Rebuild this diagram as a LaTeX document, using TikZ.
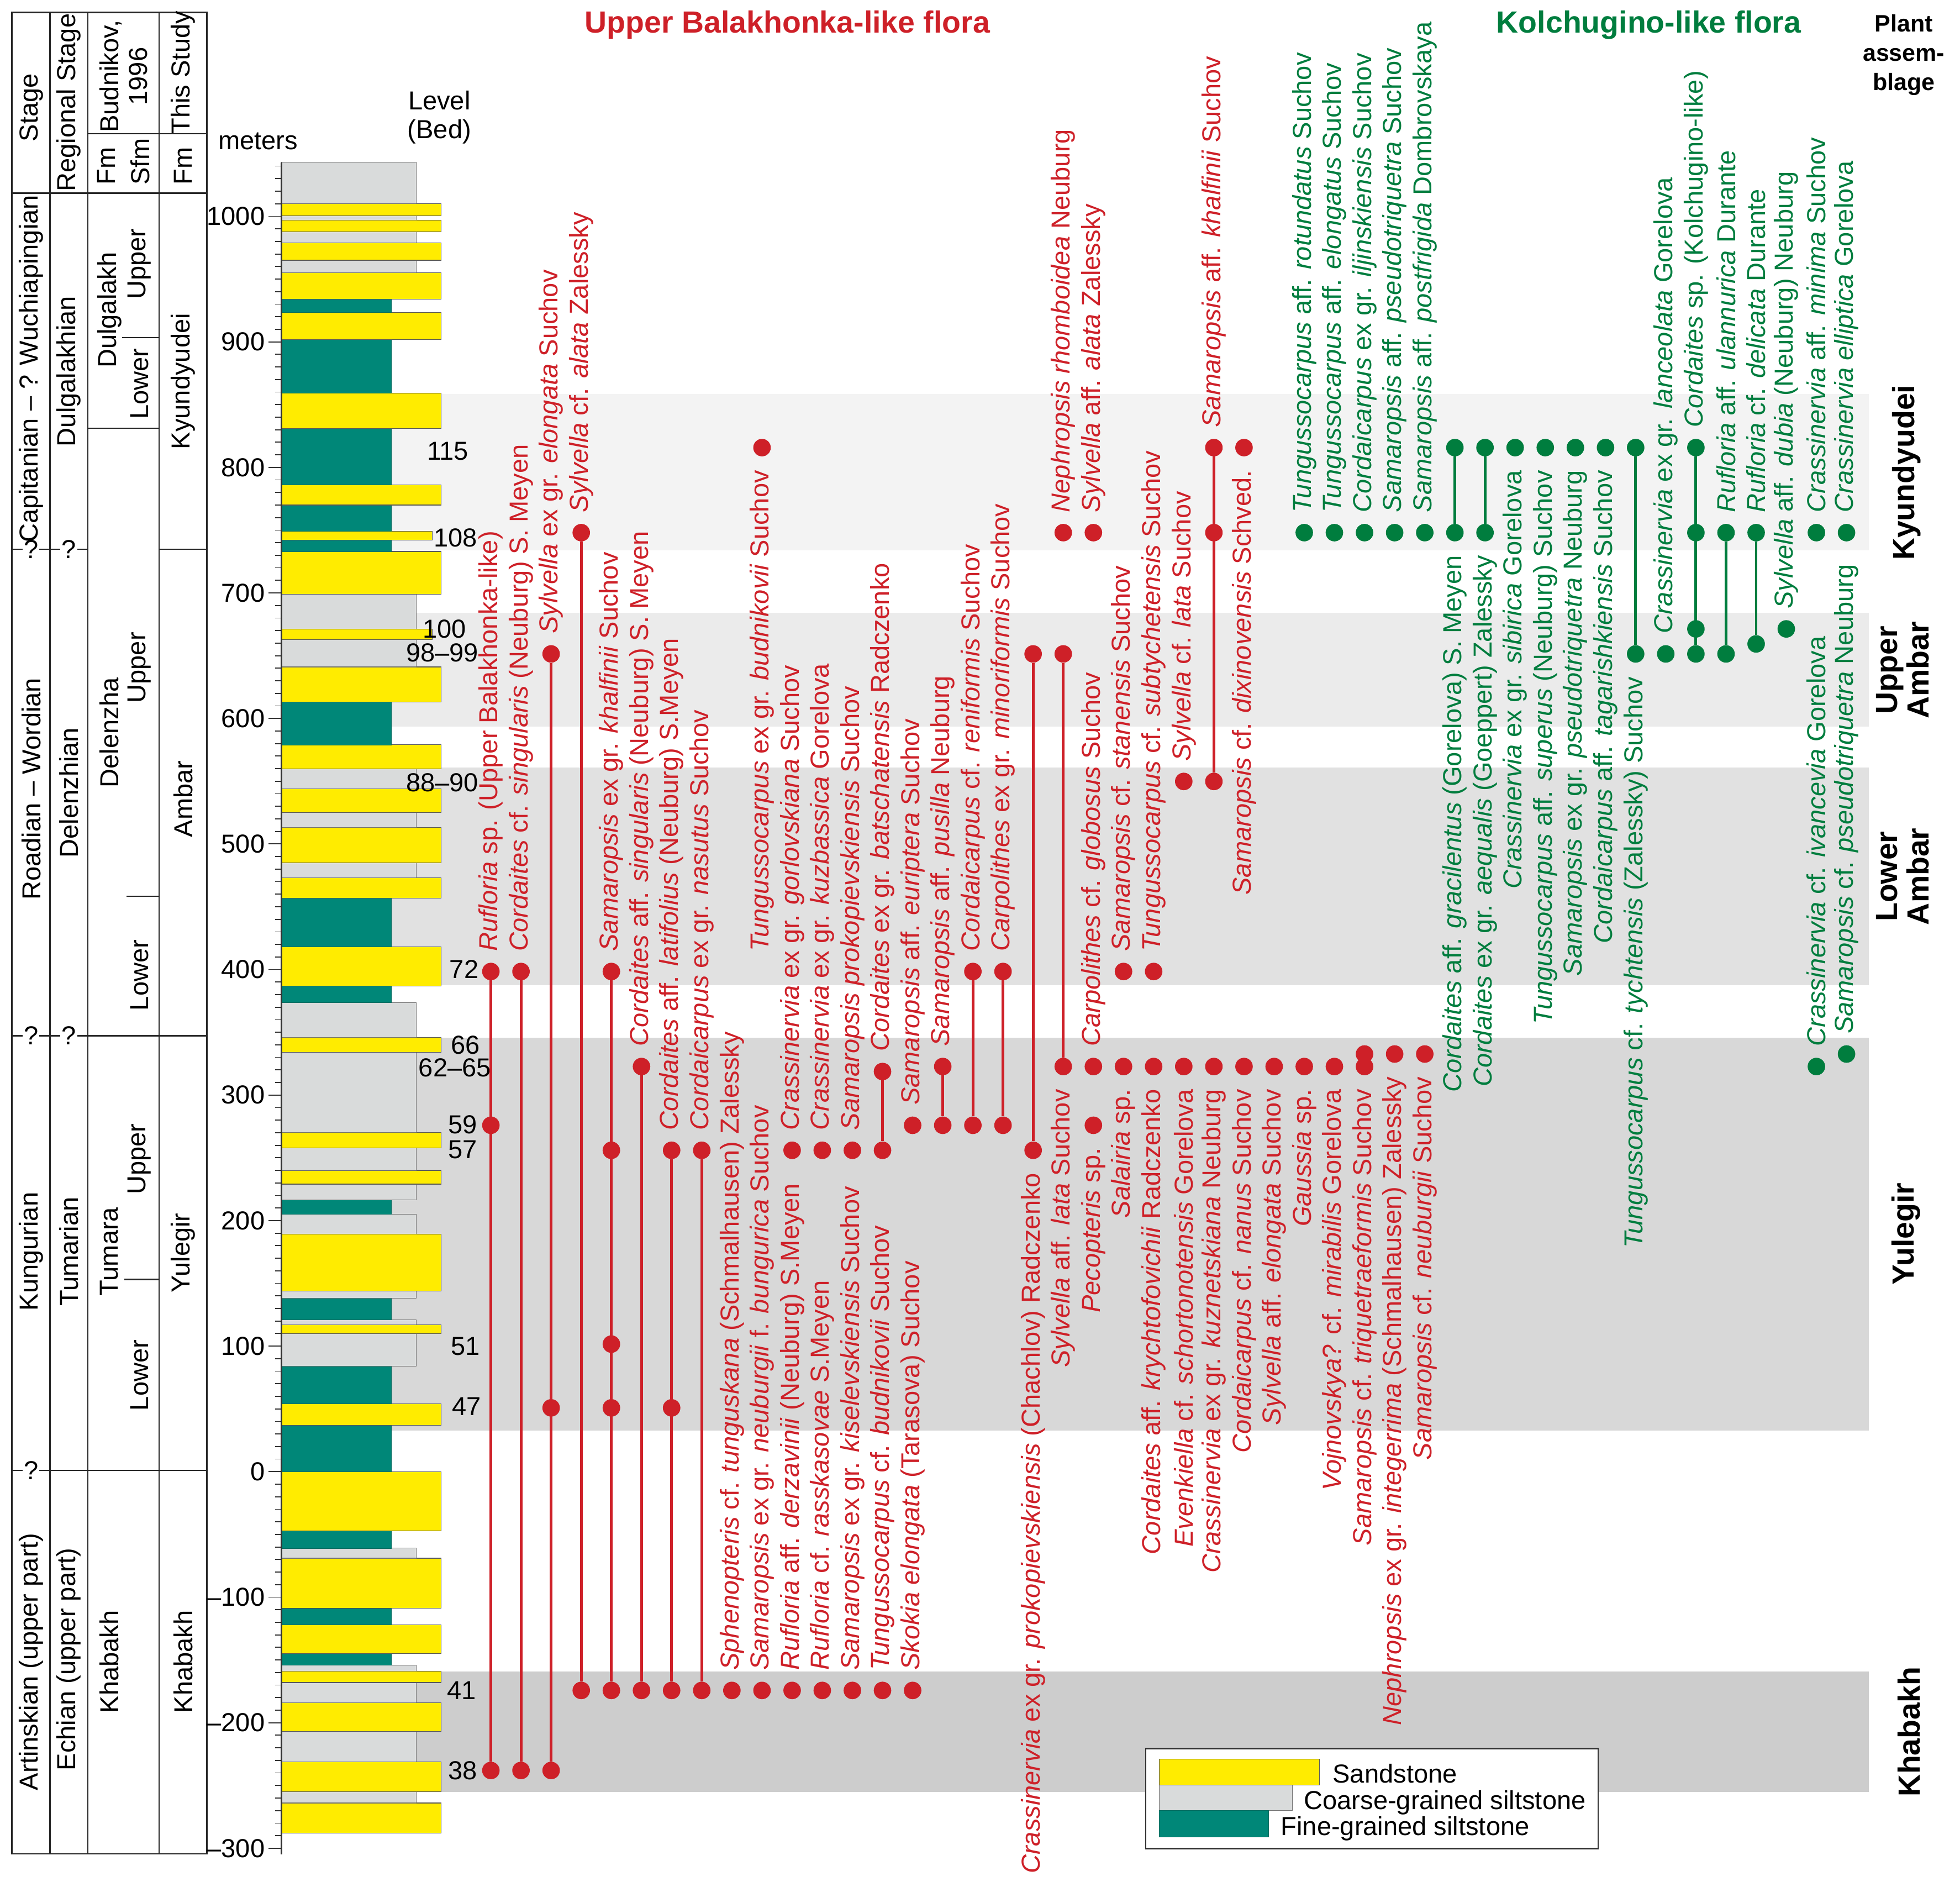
\documentclass[tikz,border=0pt]{standalone}
\usepackage{fontspec}
\setmainfont{Liberation Sans}

\definecolor{sandY}{RGB}{255,236,0}
\definecolor{coarseG}{RGB}{217,219,219}
\definecolor{fineT}{RGB}{0,135,120}
\definecolor{upperR}{RGB}{206,32,40}
\definecolor{kolchG}{RGB}{0,125,62}
\definecolor{bandKy}{RGB}{243,243,243}
\definecolor{bandUA}{RGB}{235,235,235}
\definecolor{bandLA}{RGB}{225,225,225}
\definecolor{bandYu}{RGB}{216,216,216}
\definecolor{bandKh}{RGB}{205,205,205}

\tikzset{
  sandbed/.style={fill=sandY, draw=black!65, line width=0.5pt},
  coarsebed/.style={fill=coarseG, draw=black!55, line width=0.5pt},
  finebed/.style={fill=fineT, draw=fineT!80!black, line width=0.3pt},
  rdot/.style={circle, fill=upperR, inner sep=0pt, minimum size=14pt},
  gdot/.style={circle, fill=kolchG, inner sep=0pt, minimum size=14pt},
  rrange/.style={upperR, line width=2.2pt},
  grange/.style={kolchG, line width=2.2pt},
  labup/.style={rotate=90, anchor=west, inner sep=0pt},
  labdn/.style={rotate=90, anchor=east, inner sep=0pt},
  vtext/.style={rotate=90, inner sep=0pt},
  tabline/.style={line width=1.1pt, black!85},
  axisline/.style={black!80, line width=0.8pt},
  qmark/.style={fill=white, inner sep=1pt},
  boldlab/.style={font=\bfseries\fontsize{24.5}{25}\selectfont},
}

\begin{document}
\begin{tikzpicture}[x=1pt, y=-1pt, font=\fontsize{20.8}{23}\selectfont]
\useasboundingbox (0,0) rectangle (1568,1509);
\fill[white] (0,0) rectangle (1568,1509);

% plant assemblage bands
\fill[bandKy] (225,315) rectangle (1495,440);
\fill[bandUA] (225,490) rectangle (1495,581);
\fill[bandLA] (225,614) rectangle (1495,788);
\fill[bandYu] (225,830) rectangle (1495,1144);
\fill[bandKh] (225,1337) rectangle (1495,1433);

% stratigraphic table
\draw[tabline] (9.6,9.9) rectangle (165.6,1482.6);
\draw[tabline] (40,9.9) -- (40,1482.6);
\draw[tabline] (70.3,9.9) -- (70.3,1482.6);
\draw[tabline] (127.3,9.9) -- (127.3,1482.6);
\draw[tabline] (9.6,154.4) -- (165.6,154.4);
\draw[tabline] (70.3,107) -- (165.6,107);
\draw[tabline] (70.3,342.5) -- (127.3,342.5);
\draw[tabline] (97.6,270) -- (127.3,270);
\draw[tabline] (9.6,439.3) -- (70.3,439.3);
\draw[tabline] (127.3,439.3) -- (165.6,439.3);
\draw[tabline] (101.4,716.8) -- (127.3,716.8);
\draw[tabline] (9.6,828.4) -- (165.6,828.4);
\draw[tabline] (99.4,1023.3) -- (127.3,1023.3);
\draw[tabline] (9.6,1176) -- (165.6,1176);
\node[qmark] (q1) at (24.8,439.3) {?};
\node[qmark] (q2) at (55,439.3) {?};
\node[qmark] (q3) at (24.8,828.4) {?};
\node[qmark] (q4) at (55,828.4) {?};
\node[qmark] (q5) at (24.8,1176) {?};

\node[vtext] (hStage) at (25,86) {Stage};
\node[vtext] (hReg) at (55,82) {Regional Stage};
\node[vtext, align=center] (hBud) at (98.8,61) {Budnikov,\\1996};
\node[vtext] (hThis) at (146.5,58) {This Study};
\node[vtext, anchor=west] (hFm1) at (85,148) {Fm};
\node[vtext, anchor=west] (hSfm) at (112,148) {Sfm};
\node[vtext, anchor=west] (hFm2) at (146.5,148) {Fm};

\node[vtext] (st1) at (25,295) {Capitanian – ? Wuchiapingian};
\node[vtext] (st2) at (25,631) {Roadian – Wordian};
\node[vtext] (st3) at (25,1001) {Kungurian};
\node[vtext] (st4) at (25,1329) {Artinskian (upper part)};
\node[vtext] (rs1) at (55,297) {Dulgalakhian};
\node[vtext] (rs2) at (55,634) {Delenzhian};
\node[vtext] (rs3) at (55,1001) {Tumarian};
\node[vtext] (rs4) at (55,1327) {Echian (upper part)};
\node[vtext] (fm1) at (87.5,248) {Dulgalakh};
\node[vtext] (fm2) at (87.5,586) {Delenzha};
\node[vtext] (fm3) at (87.5,1001) {Tumara};
\node[vtext] (fm4) at (87.5,1329) {Khabakh};
\node[vtext] (sf1) at (111.6,211) {Upper};
\node[vtext] (sf2) at (111.6,307) {Lower};
\node[vtext] (sf3) at (111.6,534) {Upper};
\node[vtext] (sf4) at (111.6,780) {Lower};
\node[vtext] (sf5) at (111.6,927) {Upper};
\node[vtext] (sf6) at (111.6,1100) {Lower};
\node[vtext] (ts1) at (146.5,305) {Kyundyudei};
\node[vtext] (ts2) at (146.5,639) {Ambar};
\node[vtext] (ts3) at (146.5,1002) {Yulegir};
\node[vtext] (ts4) at (146.5,1329) {Khabakh};

% lithological column, in meters
\begin{scope}[shift={(0,1177)}, y=1.004pt]
  \draw[sandbed] (225,-288) rectangle (353,-264);
  \draw[coarsebed] (225,-264) rectangle (333,-255);
  \draw[sandbed] (225,-255) rectangle (353,-231);
  \draw[coarsebed] (225,-231) rectangle (333,-207);
  \draw[sandbed] (225,-207) rectangle (353,-184);
  \draw[coarsebed] (225,-184) rectangle (333,-168);
  \draw[sandbed] (225,-168) rectangle (353,-159);
  \draw[coarsebed] (225,-159) rectangle (333,-154);
  \draw[finebed] (225,-154) rectangle (313,-145);
  \draw[sandbed] (225,-145) rectangle (353,-122);
  \draw[finebed] (225,-122) rectangle (313,-109);
  \draw[sandbed] (225,-109) rectangle (353,-69);
  \draw[coarsebed] (225,-69) rectangle (333,-61);
  \draw[finebed] (225,-61) rectangle (313,-47);
  \draw[sandbed] (225,-47) rectangle (353,0);
  \draw[finebed] (225,0) rectangle (313,37);
  \draw[sandbed] (225,37) rectangle (353,54);
  \draw[finebed] (225,54) rectangle (313,84);
  \draw[coarsebed] (225,84) rectangle (333,110);
  \draw[sandbed] (225,110) rectangle (353,117);
  \draw[coarsebed] (225,117) rectangle (333,121);
  \draw[finebed] (225,121) rectangle (313,138);
  \draw[coarsebed] (225,138) rectangle (333,144);
  \draw[sandbed] (225,144) rectangle (353,189);
  \draw[coarsebed] (225,189) rectangle (333,205);
  \draw[finebed] (225,205) rectangle (313,216.5);
  \draw[coarsebed] (225,216.5) rectangle (333,229);
  \draw[sandbed] (225,229) rectangle (353,240);
  \draw[coarsebed] (225,240) rectangle (333,258);
  \draw[sandbed] (225,258) rectangle (353,270);
  \draw[coarsebed] (225,270) rectangle (333,334);
  \draw[sandbed] (225,334) rectangle (353,346);
  \draw[coarsebed] (225,346) rectangle (333,373.5);
  \draw[finebed] (225,373.5) rectangle (313,387);
  \draw[sandbed] (225,387) rectangle (353,418);
  \draw[finebed] (225,418) rectangle (313,457);
  \draw[sandbed] (225,457) rectangle (353,473);
  \draw[coarsebed] (225,473) rectangle (333,485);
  \draw[sandbed] (225,485) rectangle (353,513);
  \draw[coarsebed] (225,513) rectangle (333,525);
  \draw[sandbed] (225,525) rectangle (353,544);
  \draw[coarsebed] (225,544) rectangle (333,560);
  \draw[sandbed] (225,560) rectangle (353,579);
  \draw[finebed] (225,579) rectangle (313,613);
  \draw[sandbed] (225,613) rectangle (353,641);
  \draw[coarsebed] (225,641) rectangle (333,663);
  \draw[sandbed] (225,663) rectangle (346,671);
  \draw[coarsebed] (225,671) rectangle (333,699);
  \draw[sandbed] (225,699) rectangle (353,733);
  \draw[finebed] (225,733) rectangle (313,742);
  \draw[sandbed] (225,742) rectangle (346,749);
  \draw[finebed] (225,749) rectangle (313,770);
  \draw[sandbed] (225,770) rectangle (353,786);
  \draw[finebed] (225,786) rectangle (313,831);
  \draw[sandbed] (225,831) rectangle (353,859);
  \draw[finebed] (225,859) rectangle (313,902);
  \draw[sandbed] (225,902) rectangle (353,923.5);
  \draw[finebed] (225,923.5) rectangle (313,934);
  \draw[sandbed] (225,934) rectangle (353,955);
  \draw[coarsebed] (225,955) rectangle (333,965);
  \draw[sandbed] (225,965) rectangle (353,979);
  \draw[coarsebed] (225,979) rectangle (333,987.5);
  \draw[sandbed] (225,987.5) rectangle (353,997);
  \draw[coarsebed] (225,997) rectangle (333,1000.5);
  \draw[sandbed] (225,1000.5) rectangle (353,1010);
  \draw[coarsebed] (225,1010) rectangle (333,1043);
  % depth axis
  \draw[axisline, line width=1.3pt] (225,1043) -- (225,-305);
  \foreach \m in {-300,-290,...,1040}
    \draw[axisline] (220,\m) -- (225,\m);
  \foreach \m/\t [count=\i] in {1000/1000,900/900,800/800,700/700,600/600,500/500,400/400,300/300,200/200,100/100,0/0,-100/–100,-200/–200,-300/–300} {
    \draw[axisline] (215,\m) -- (225,\m);
    \node[anchor=east, inner sep=0pt] (ax\i) at (212,\m) {\t};
  }
\end{scope}
\node (meters) at (206.5,113) {meters};
\node[align=center] (level) at (351.5,94) {Level\\(Bed)};

% bed numbers
\node[anchor=east, inner sep=0pt] (b115) at (375,361) {115};
\node[anchor=east, inner sep=0pt] (b108) at (382,430) {108};
\node[anchor=east, inner sep=0pt] (b100) at (373,503) {100};
\node[anchor=east, inner sep=0pt] (b98) at (383,522) {98–99};
\node[anchor=east, inner sep=0pt] (b88) at (383,626) {88–90};
\node[anchor=east, inner sep=0pt] (b72) at (383,775) {72};
\node[anchor=east, inner sep=0pt] (b66) at (384,836) {66};
\node[anchor=east, inner sep=0pt] (b62) at (393,854) {62–65};
\node[anchor=east, inner sep=0pt] (b59) at (382,899.5) {59};
\node[anchor=east, inner sep=0pt] (b57) at (382,919.6) {57};
\node[anchor=east, inner sep=0pt] (b51) at (384,1077) {51};
\node[anchor=east, inner sep=0pt] (b47) at (385,1125) {47};
\node[anchor=east, inner sep=0pt] (b41) at (381,1352) {41};
\node[anchor=east, inner sep=0pt] (b38) at (382,1416) {38};

% species ranges, one column per x unit
\begin{scope}[xshift=392.7pt, x=24.1pt]
  % Upper Balakhonka-like flora
  \node[rdot] (r0a) at (0,777) {}; \node[rdot] (r0b) at (0,900) {}; \node[rdot] (r0c) at (0,1416) {};
  \draw[rrange] (r0a) -- (r0c);
  \node[labup, upperR] (tr0) at (0,761) {\textit{Rufloria} sp. (Upper Balakhonka-like)};
  \node[rdot] (r1a) at (1,777) {}; \node[rdot] (r1b) at (1,1416) {};
  \draw[rrange] (r1a) -- (r1b);
  \node[labup, upperR] (tr1) at (1,761) {\textit{Cordaites} cf. \textit{singularis} (Neuburg) S. Meyen};
  \node[rdot] (r2a) at (2,523) {}; \node[rdot] (r2b) at (2,1126) {}; \node[rdot] (r2c) at (2,1416) {};
  \draw[rrange] (r2a) -- (r2c);
  \node[labup, upperR] (tr2) at (2,507) {\textit{Sylvella} ex gr. \textit{elongata} Suchov};
  \node[rdot] (r3a) at (3,426) {}; \node[rdot] (r3b) at (3,1352) {};
  \draw[rrange] (r3a) -- (r3b);
  \node[labup, upperR] (tr3) at (3,410) {\textit{Sylvella} cf. \textit{alata} Zalessky};
  \node[rdot] (r4a) at (4,777) {}; \node[rdot] (r4b) at (4,920) {}; \node[rdot] (r4c) at (4,1075) {};
  \node[rdot] (r4d) at (4,1126) {}; \node[rdot] (r4e) at (4,1352) {};
  \draw[rrange] (r4a) -- (r4e);
  \node[labup, upperR] (tr4) at (4,761) {\textit{Samaropsis} ex gr. \textit{khalfinii} Suchov};
  \node[rdot] (r5a) at (5,853) {}; \node[rdot] (r5b) at (5,1352) {};
  \draw[rrange] (r5a) -- (r5b);
  \node[labup, upperR] (tr5) at (5,837) {\textit{Cordaites} aff. \textit{singularis} (Neuburg) S. Meyen};
  \node[rdot] (r6a) at (6,920) {}; \node[rdot] (r6b) at (6,1126) {}; \node[rdot] (r6c) at (6,1352) {};
  \draw[rrange] (r6a) -- (r6c);
  \node[labup, upperR] (tr6) at (6,904) {\textit{Cordaites} aff. \textit{latifolius} (Neuburg) S.Meyen};
  \node[rdot] (r7a) at (7,920) {}; \node[rdot] (r7b) at (7,1352) {};
  \draw[rrange] (r7a) -- (r7b);
  \node[labup, upperR] (tr7) at (7,904) {\textit{Cordaicarpus} ex gr. \textit{nasutus} Suchov};
  \node[rdot] (r8a) at (8,1352) {};
  \node[labup, upperR] (tr8) at (8,1336) {\textit{Sphenopteris} cf. \textit{tunguskana} (Schmalhausen) Zalessky};
  \node[rdot] (r9a) at (9,358) {};
  \node[labdn, upperR] (tr9a) at (9,376) {\textit{Tungussocarpus} ex gr. \textit{budnikovii} Suchov};
  \node[rdot] (r9b) at (9,1352) {};
  \node[labup, upperR] (tr9b) at (9,1336) {\textit{Samaropsis} ex gr. \textit{neuburgii} f. \textit{bungurica} Suchov};
  \node[rdot] (r10a) at (10,920) {};
  \node[labup, upperR] (tr10a) at (10,904) {\textit{Crassinervia} ex gr. \textit{gorlovskiana} Suchov};
  \node[rdot] (r10b) at (10,1352) {};
  \node[labup, upperR] (tr10b) at (10,1336) {\textit{Rufloria} aff. \textit{derzavinii} (Neuburg) S.Meyen};
  \node[rdot] (r11a) at (11,920) {};
  \node[labup, upperR] (tr11a) at (11,904) {\textit{Crassinervia} ex gr. \textit{kuzbassica} Gorelova};
  \node[rdot] (r11b) at (11,1352) {};
  \node[labup, upperR] (tr11b) at (11,1336) {\textit{Rufloria} cf. \textit{rasskasovae} S.Meyen};
  \node[rdot] (r12a) at (12,920) {};
  \node[labup, upperR] (tr12a) at (12,904) {\textit{Samaropsis prokopievskiensis} Suchov};
  \node[rdot] (r12b) at (12,1352) {};
  \node[labup, upperR] (tr12b) at (12,1336) {\textit{Samaropsis} ex gr. \textit{kiselevskiensis} Suchov};
  \node[rdot] (r13a) at (13,857) {}; \node[rdot] (r13b) at (13,920) {};
  \draw[rrange] (r13a) -- (r13b);
  \node[labup, upperR] (tr13a) at (13,841) {\textit{Cordaites} ex gr. \textit{batschatensis} Radczenko};
  \node[rdot] (r13c) at (13,1352) {};
  \node[labup, upperR] (tr13b) at (13,1336) {\textit{Tungussocarpus} cf. \textit{budnikovii} Suchov};
  \node[rdot] (r14a) at (14,900) {};
  \node[labup, upperR] (tr14a) at (14,884) {\textit{Samaropsis} aff. \textit{euriptera} Suchov};
  \node[rdot] (r14b) at (14,1352) {};
  \node[labup, upperR] (tr14b) at (14,1336) {\textit{Skokia elongata} (Tarasova) Suchov};
  \node[rdot] (r15a) at (15,853) {}; \node[rdot] (r15b) at (15,900) {};
  \draw[rrange] (r15a) -- (r15b);
  \node[labup, upperR] (tr15) at (15,837) {\textit{Samaropsis} aff. \textit{pusilla} Neuburg};
  \node[rdot] (r16a) at (16,777) {}; \node[rdot] (r16b) at (16,900) {};
  \draw[rrange] (r16a) -- (r16b);
  \node[labup, upperR] (tr16) at (16,761) {\textit{Cordaicarpus} cf. \textit{reniformis} Suchov};
  \node[rdot] (r17a) at (17,777) {}; \node[rdot] (r17b) at (17,900) {};
  \draw[rrange] (r17a) -- (r17b);
  \node[labup, upperR] (tr17) at (17,761) {\textit{Carpolithes} ex gr. \textit{minoriformis} Suchov};
  \node[rdot] (r18a) at (18,523) {}; \node[rdot] (r18b) at (18,920) {};
  \draw[rrange] (r18a) -- (r18b);
  \node[labdn, upperR] (tr18) at (18,938) {\textit{Crassinervia} ex gr. \textit{prokopievskiensis} (Chachlov) Radczenko};
  \node[rdot] (r19a) at (19,426) {};
  \node[labup, upperR] (tr19a) at (19,410) {\textit{Nephropsis rhomboidea} Neuburg};
  \node[rdot] (r19b) at (19,523) {}; \node[rdot] (r19c) at (19,853) {};
  \draw[rrange] (r19b) -- (r19c);
  \node[labdn, upperR] (tr19b) at (19,871) {\textit{Sylvella} aff. \textit{lata} Suchov};
  \node[rdot] (r20a) at (20,426) {};
  \node[labup, upperR] (tr20a) at (20,410) {\textit{Sylvella} aff. \textit{alata} Zalessky};
  \node[rdot] (r20b) at (20,853) {};
  \node[labup, upperR] (tr20b) at (20,837) {\textit{Carpolithes} cf. \textit{globosus} Suchov};
  \node[rdot] (r20c) at (20,900) {};
  \node[labdn, upperR] (tr20c) at (20,918) {\textit{Pecopteris} sp.};
  \node[rdot] (r21a) at (21,777) {};
  \node[labup, upperR] (tr21a) at (21,761) {\textit{Samaropsis} cf. \textit{stanensis} Suchov};
  \node[rdot] (r21b) at (21,853) {};
  \node[labdn, upperR] (tr21b) at (21,871) {\textit{Salairia} sp.};
  \node[rdot] (r22a) at (22,777) {};
  \node[labup, upperR] (tr22a) at (22,761) {\textit{Tungussocarpus} cf. \textit{subtychetensis} Suchov};
  \node[rdot] (r22b) at (22,853) {};
  \node[labdn, upperR] (tr22b) at (22,871) {\textit{Cordaites} aff. \textit{krychtofovichii} Radczenko};
  \node[rdot] (r23a) at (23,625) {};
  \node[labup, upperR] (tr23a) at (23,609) {\textit{Sylvella} cf. \textit{lata} Suchov};
  \node[rdot] (r23b) at (23,853) {};
  \node[labdn, upperR] (tr23b) at (23,871) {\textit{Evenkiella} cf. \textit{schortonotensis} Gorelova};
  \node[rdot] (r24a) at (24,358) {}; \node[rdot] (r24b) at (24,426) {}; \node[rdot] (r24c) at (24,625) {};
  \draw[rrange] (r24a) -- (r24c);
  \node[labup, upperR] (tr24a) at (24,342) {\textit{Samaropsis} aff. \textit{khalfinii} Suchov};
  \node[rdot] (r24d) at (24,853) {};
  \node[labdn, upperR] (tr24b) at (24,871) {\textit{Crassinervia} ex gr. \textit{kuznetskiana} Neuburg};
  \node[rdot] (r25a) at (25,358) {};
  \node[labdn, upperR] (tr25a) at (25,376) {\textit{Samaropsis} cf. \textit{dixinovensis} Schved.};
  \node[rdot] (r25b) at (25,853) {};
  \node[labdn, upperR] (tr25b) at (25,871) {\textit{Cordaicarpus} cf. \textit{nanus} Suchov};
  \node[rdot] (r26) at (26,853) {};
  \node[labdn, upperR] (tr26) at (26,871) {\textit{Sylvella} aff. \textit{elongata} Suchov};
  \node[rdot] (r27) at (27,853) {};
  \node[labdn, upperR] (tr27) at (27,871) {\textit{Gaussia} sp.};
  \node[rdot] (r28) at (28,853) {};
  \node[labdn, upperR] (tr28) at (28,871) {\textit{Vojnovskya}? cf. \textit{mirabilis} Gorelova};
  \node[rdot] (r29a) at (29,843) {}; \node[rdot] (r29b) at (29,853) {};
  \node[labdn, upperR] (tr29) at (29,871) {\textit{Samaropsis} cf. \textit{triquetraeformis} Suchov};
  \node[rdot] (r30) at (30,843) {};
  \node[labdn, upperR] (tr30) at (30,861) {\textit{Nephropsis} ex gr. \textit{integerrima} (Schmalhausen) Zalessky};
  \node[rdot] (r31) at (31,843) {};
  \node[labdn, upperR] (tr31) at (31,861) {\textit{Samaropsis} cf. \textit{neuburgii} Suchov};

  % Kolchugino-like flora
  \node[gdot] (g27) at (27,426) {};
  \node[labup, kolchG] (tg27) at (27,410) {\textit{Tungussocarpus} aff. \textit{rotundatus} Suchov};
  \node[gdot] (g28) at (28,426) {};
  \node[labup, kolchG] (tg28) at (28,410) {\textit{Tungussocarpus} aff. \textit{elongatus} Suchov};
  \node[gdot] (g29) at (29,426) {};
  \node[labup, kolchG] (tg29) at (29,410) {\textit{Cordaicarpus} ex gr. \textit{iljinskiensis} Suchov};
  \node[gdot] (g30) at (30,426) {};
  \node[labup, kolchG] (tg30) at (30,410) {\textit{Samaropsis} aff. \textit{pseudotriquetra} Suchov};
  \node[gdot] (g31) at (31,426) {};
  \node[labup, kolchG] (tg31) at (31,410) {\textit{Samaropsis} aff. \textit{postfrigida} Dombrovskaya};
  \node[gdot] (g32a) at (32,358) {}; \node[gdot] (g32b) at (32,426) {};
  \draw[grange] (g32a) -- (g32b);
  \node[labdn, kolchG] (tg32) at (32,444) {\textit{Cordaites} aff. \textit{gracilentus} (Gorelova) S. Meyen};
  \node[gdot] (g33a) at (33,358) {}; \node[gdot] (g33b) at (33,426) {};
  \draw[grange] (g33a) -- (g33b);
  \node[labdn, kolchG] (tg33) at (33,444) {\textit{Cordaites} ex gr. \textit{aequalis} (Goeppert) Zalessky};
  \node[gdot] (g34) at (34,358) {};
  \node[labdn, kolchG] (tg34) at (34,376) {\textit{Crassinervia} ex gr. \textit{sibirica} Gorelova};
  \node[gdot] (g35) at (35,358) {};
  \node[labdn, kolchG] (tg35) at (35,376) {\textit{Tungussocarpus} aff. \textit{superus} (Neuburg) Suchov};
  \node[gdot] (g36) at (36,358) {};
  \node[labdn, kolchG] (tg36) at (36,376) {\textit{Samaropsis} ex gr. \textit{pseudotriquetra} Neuburg};
  \node[gdot] (g37) at (37,358) {};
  \node[labdn, kolchG] (tg37) at (37,376) {\textit{Cordaicarpus} aff. \textit{tagarishkiensis} Suchov};
  \node[gdot] (g38a) at (38,358) {}; \node[gdot] (g38b) at (38,523) {};
  \draw[grange] (g38a) -- (g38b);
  \node[labdn, kolchG] (tg38) at (38,541) {\textit{Tungussocarpus} cf. \textit{tychtensis} (Zalessky) Suchov};
  \node[gdot] (g39) at (39,523) {};
  \node[labup, kolchG] (tg39) at (39,507) {\textit{Crassinervia} ex gr. \textit{lanceolata} Gorelova};
  \node[gdot] (g40a) at (40,358) {}; \node[gdot] (g40b) at (40,426) {};
  \node[gdot] (g40c) at (40,503) {}; \node[gdot] (g40d) at (40,523) {};
  \draw[grange] (g40a) -- (g40d);
  \node[labup, kolchG] (tg40) at (40,342) {\textit{Cordaites} sp. (Kolchugino-like)};
  \node[gdot] (g41a) at (41,426) {}; \node[gdot] (g41b) at (41,523) {};
  \draw[grange] (g41a) -- (g41b);
  \node[labup, kolchG] (tg41) at (41,410) {\textit{Rufloria} aff. \textit{ulannurica} Durante};
  \node[gdot] (g42a) at (42,426) {}; \node[gdot] (g42b) at (42,515) {};
  \draw[grange] (g42a) -- (g42b);
  \node[labup, kolchG] (tg42) at (42,410) {\textit{Rufloria} cf. \textit{delicata} Durante};
  \node[gdot] (g43) at (43,503) {};
  \node[labup, kolchG] (tg43) at (43,487) {\textit{Sylvella} aff. \textit{dubia} (Neuburg) Neuburg};
  \node[gdot] (g44a) at (44,426) {};
  \node[labup, kolchG] (tg44a) at (44,410) {\textit{Crassinervia} aff. \textit{minima} Suchov};
  \node[gdot] (g44b) at (44,853) {};
  \node[labup, kolchG] (tg44b) at (44,837) {\textit{Crassinervia} cf. \textit{ivancevia} Gorelova};
  \node[gdot] (g45a) at (45,426) {};
  \node[labup, kolchG] (tg45a) at (45,410) {\textit{Crassinervia elliptica} Gorelova};
  \node[gdot] (g45b) at (45,843) {};
  \node[labup, kolchG] (tg45b) at (45,827) {\textit{Samaropsis} cf. \textit{pseudotriquetra} Neuburg};
\end{scope}

% headings
\node[boldlab, upperR] (ttlR) at (630,20) {Upper Balakhonka-like flora};
\node[boldlab, kolchG] (ttlG) at (1319,20) {Kolchugino-like flora};
\node[align=center, font=\bfseries\fontsize{19}{23.5}\selectfont] (plant) at (1523,44) {Plant\\assem-\\blage};
\node[vtext, boldlab] (aKy) at (1525,378) {Kyundyudei};
\node[vtext, boldlab, align=center] (aUA) at (1522,536) {Upper\\Ambar};
\node[vtext, boldlab, align=center] (aLA) at (1522,701) {Lower\\Ambar};
\node[vtext, boldlab] (aYu) at (1525,987) {Yulegir};
\node[vtext, boldlab] (aKh) at (1527,1385) {Khabakh};

% legend
\draw[line width=1.1pt, black!80, fill=white] (916.6,1398.5) rectangle (1278.5,1478.5);
\draw[sandbed] (927.5,1407) rectangle (1055.7,1427.5);
\draw[coarsebed] (927.5,1427.5) rectangle (1034,1448);
\draw[finebed] (927.5,1448) rectangle (1015,1469);
\node[anchor=base west, inner sep=0pt] (lgS) at (1066,1426) {Sandstone};
\node[anchor=base west, inner sep=0pt] (lgC) at (1043,1447) {Coarse-grained siltstone};
\node[anchor=base west, inner sep=0pt] (lgF) at (1024.5,1468) {Fine-grained siltstone};
\end{tikzpicture}
\end{document}
